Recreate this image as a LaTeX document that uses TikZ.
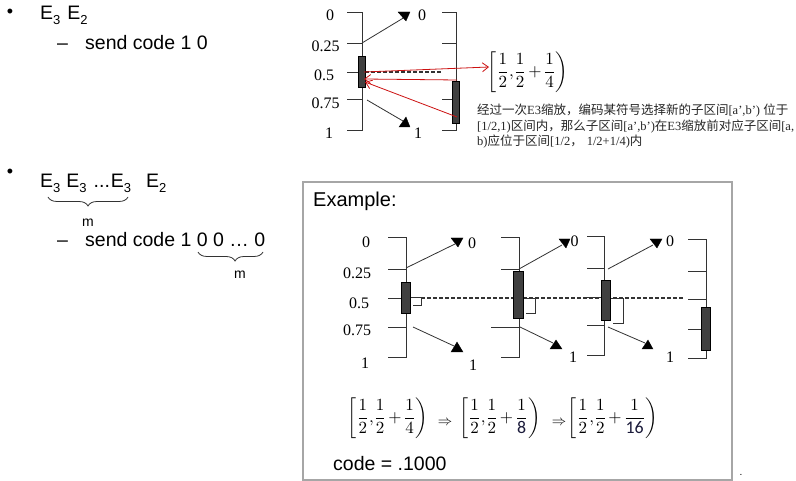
\documentclass[tikz,border=0pt]{standalone}
\usepackage{fontspec}
\usepackage{amsmath}
\usepackage{graphicx}
\usetikzlibrary{arrows.meta,decorations.pathreplacing}
\newfontfamily\arialf{Liberation Sans}
\newfontfamily\timesf{Liberation Serif}
\newfontfamily\cjkf{Noto Sans CJK SC}
\newfontfamily\calf{Carlito}
\definecolor{ink}{HTML}{333333}
\definecolor{barfill}{HTML}{404040}
\definecolor{redarrow}{HTML}{CC1111}
\definecolor{boxgray}{HTML}{A6A6A6}
\definecolor{navy}{HTML}{1A1A3A}
\newcommand\mysub[1]{\raisebox{-4.5pt}{\fontsize{13}{13}\selectfont #1}}
\newcommand\zh[1]{{\cjkf #1}}
\newcommand\intv[1]{\scalebox{1.7}{$\left[\dfrac{1}{2}{,}\dfrac{1}{2}\mkern-2mu+\mkern-2mu\dfrac{1}{#1}\right)$}}
\newcommand\brkt[5]{%
  \draw[brk] (#1,#3) -- (#2,#3) -- (#2,#4) -- (#1,#4);
  \foreach \tk in {#5} {\draw[brk] (#1,\tk) -- (#2,\tk);}
}
\begin{document}
\begin{tikzpicture}[x=1pt,y=-1pt,
  lbl/.style={font=\fontsize{16}{16}\selectfont\timesf, inner sep=0pt},
  brk/.style={draw=ink, line width=0.9pt},
  bar/.style={draw=black, fill=barfill, line width=0.5pt},
  arr/.style={draw=ink, line width=0.8pt},
  tri/.style={fill=black, draw=black, line width=0.3pt},
  redarr/.style={draw=redarrow, line width=0.8pt, -{Straight Barb[length=6pt,width=9pt]}},
  dsh/.style={draw=ink, line width=1.4pt, dash pattern=on 4pt off 2pt},
  big/.style={font=\fontsize{19.5}{22}\selectfont\arialf, inner sep=0pt},
  small/.style={font=\fontsize{14}{14}\selectfont\arialf, inner sep=0pt},
  bul/.style={font=\fontsize{18}{18}\selectfont\arialf, inner sep=0pt},
  zhtext/.style={font=\fontsize{12.5}{14}\selectfont\timesf, inner sep=0pt, text=black!85},
  brc/.style={draw=ink, line width=0.8pt, decorate},
]
\fill[white] (0,0) rectangle (796,481);
\useasboundingbox (0,0) rectangle (796,481);

% ---------- left text ----------
\node[bul] (b1) at (10,13) {•};
\node[big, anchor=base west] (t1) at (40,20) {E\mysub{3}\hspace{7pt}E\mysub{2}};
\node[big, anchor=base west] (d1) at (57,50) {–};
\node[big, anchor=base west] (s1) at (85,50) {send code 1 0};

\node[bul] (b2) at (10,173) {•};
\node[big, anchor=base west] (t2) at (40,188) {E\mysub{3}\hspace{6pt}E\mysub{3}\hspace{7pt}...\hspace{1pt}E\mysub{3}\hspace{15pt}E\mysub{2}};
\draw[brc, decoration={brace, mirror, amplitude=9pt}] (48,197) -- (128,197);
\node[small] (m1) at (88,223) {m};
\node[big, anchor=base west] (d2) at (57,247) {–};
\node[big, anchor=base west] (s2) at (85,247) {send code 1 0 0 … 0};
\draw[brc, decoration={brace, mirror, amplitude=9pt, aspect=0.57}] (198,252) -- (263,252);
\node[small] (m2) at (240,275) {m};

% ---------- top diagram ----------
\node[lbl] (l0) at (330,15) {0};
\node[lbl] (l25) at (325.5,46) {0.25};
\node[lbl] (l5) at (324,75) {0.5};
\node[lbl] (l75) at (325.5,103) {0.75};
\node[lbl] (l1) at (329,133) {1};
\brkt{347}{362}{12}{130}{43,72,99}
\brkt{442}{456}{12}{130}{43,99}
\draw[dsh] (365,72) -- (442,72);
\draw[bar] (358,56) rectangle (365,87);
\draw[bar] (452,81) rectangle (459,123);
\node[lbl] (r0) at (422,15) {0};
\node[lbl] (r1) at (418,133) {1};
\coordinate (ua) at (362,43);
\coordinate (ub) at (405,17);
\draw[arr] (ua) -- (ub);
\fill[tri] (398,12) -- (410,12) -- (406,21) -- cycle;
\coordinate (la) at (367,100);
\coordinate (lb) at (403,121);
\draw[arr] (la) -- (lb);
\fill[tri] (399,127) -- (410,127) -- (406,117) -- cycle;
\node (f0) at (528,72) {\intv{4}};
\coordinate (ra) at (364,72);
\coordinate (rend) at (489,67);
\coordinate (rb) at (457,80);
\coordinate (rc) at (457,117);
\coordinate (rt1) at (364,79);
\coordinate (rt2) at (365,82);
\draw[redarr] (ra) -- (rend);
\draw[redarr] (rb) -- (rt1);
\draw[redarr] (rc) -- (rt2);

\node[zhtext, anchor=base west] (c1) at (477,115) {\zh{经过一次}E3\zh{缩放，编码某符号选择新的子区间}[a’,b’) \zh{位于}};
\node[zhtext, anchor=base west] (c2) at (477,131) {[1/2,1)\zh{区间内，那么子区间}[a’,b’)\zh{在}E3\zh{缩放前对应子区间}[a,};
\node[zhtext, anchor=base west] (c3) at (477,146) {b)\zh{应位于区间}[1/2\zh{，}\hspace{4pt}1/2+1/4)\zh{内}};

% ---------- example box ----------
\draw[draw=boxgray, line width=1.3pt] (303,182) rectangle (732,480);
\node[font=\fontsize{20}{22}\selectfont\arialf, inner sep=0pt, anchor=base west] (ex) at (313,207) {Example:};

\node[lbl] (e0) at (366,242) {0};
\node[lbl] (e25) at (357,273) {0.25};
\node[lbl] (e5) at (359,303) {0.5};
\node[lbl] (e75) at (357,330) {0.75};
\node[lbl] (e1) at (365,363) {1};

% diagram 1
\brkt{388}{406}{237}{357}{269,298,327}
\draw[dsh] (421,298) -- (683,298);
\draw[bar] (401,282) rectangle (410,313);
\draw[brk] (411,297) -- (421,297) -- (421,305) -- (413,305);
\coordinate (a1s) at (406,268);
\coordinate (a1e) at (455,244);
\draw[arr] (a1s) -- (a1e);
\fill[tri] (451,238) -- (463,238) -- (458,247) -- cycle;
\coordinate (b1s) at (413,327);
\coordinate (b1e) at (454,346);
\draw[arr] (b1s) -- (b1e);
\fill[tri] (451,352) -- (463,352) -- (457,342) -- cycle;
\node[lbl] (n10) at (472,243) {0};
\node[lbl] (n11) at (473,365) {1};

% diagram 2
\brkt{501}{519}{237}{357}{269}
\draw[brk] (491,327) -- (519,327);
\draw[bar] (513,271) rectangle (523,318);
\draw[brk] (524,298) -- (535,298) -- (535,313) -- (526,313);
\coordinate (a2s) at (519,269);
\coordinate (a2e) at (562,245);
\draw[arr] (a2s) -- (a2e);
\fill[tri] (559,239) -- (570,239) -- (566,248) -- cycle;
\coordinate (b2s) at (520,327);
\coordinate (b2e) at (553,343);
\draw[arr] (b2s) -- (b2e);
\fill[tri] (550,349) -- (562,349) -- (556,340) -- cycle;
\node[lbl] (n20) at (574.5,241) {0};
\node[lbl] (n21) at (573,357) {1};

% diagram 3
\brkt{587}{604}{236}{355}{268,297,325}
\draw[bar] (601,280) rectangle (610,320);
\draw[brk] (611,298) -- (623,298) -- (623,323) -- (613,323);
\coordinate (a3s) at (608,269);
\coordinate (a3e) at (653,245);
\draw[arr] (a3s) -- (a3e);
\fill[tri] (650,239) -- (662,239) -- (657,248) -- cycle;
\coordinate (b3s) at (608,327);
\coordinate (b3e) at (645,343);
\draw[arr] (b3s) -- (b3e);
\fill[tri] (642,349) -- (653,349) -- (648,340) -- cycle;
\node[lbl] (n30) at (670,241) {0};
\node[lbl] (n31) at (670,357) {1};

% diagram 4
\brkt{688}{706}{239}{358}{271,299,329}
\draw[bar] (701,307) rectangle (710,350);

% formulas
\node (g1) at (388,418) {\intv{4}};
\node[font=\fontsize{15}{15}\selectfont] (i1) at (445,423) {$\Rightarrow$};
\node (g2) at (500,418) {\intv{\mbox{\fontsize{10.5}{11}\selectfont\calf\color{navy}8}}};
\node[font=\fontsize{15}{15}\selectfont] (i2) at (559,423) {$\Rightarrow$};
\node (g3) at (613,418) {\intv{\mbox{\fontsize{10.5}{11}\selectfont\calf\color{navy}16}}};
\node[font=\fontsize{19.5}{22}\selectfont\arialf, inner sep=0pt, anchor=base west] (code) at (333,470) {code = .1000};
\node[font=\fontsize{10}{10}\selectfont\arialf, inner sep=0pt] (dot) at (741,475) {.};
\end{tikzpicture}
\end{document}
